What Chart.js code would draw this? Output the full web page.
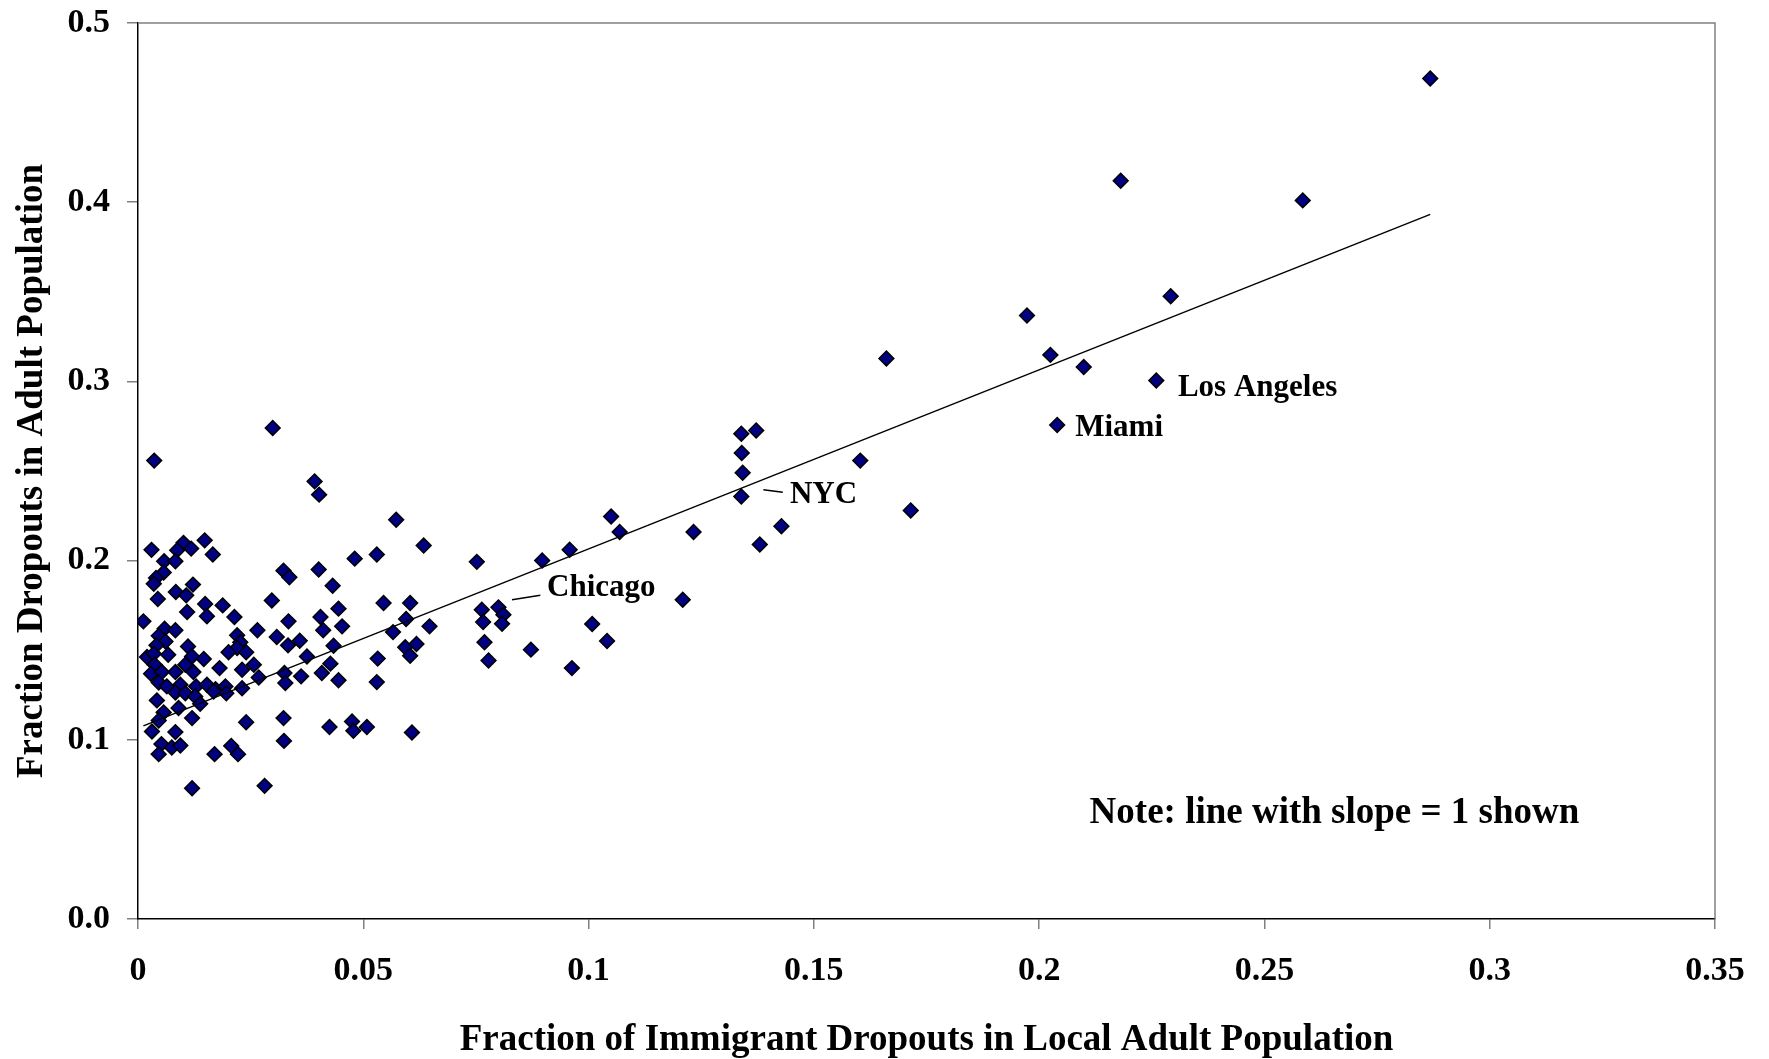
<!DOCTYPE html>
<html>
<head>
<meta charset="utf-8">
<title>Immigrant dropouts vs dropouts in adult population</title>
<script src="https://cdn.jsdelivr.net/npm/chart.js@4.4.1/dist/chart.umd.min.js"></script>
<style>
    html, body { margin: 0; padding: 0; background: #fff; }
    #wrap { width: 1769px; height: 1059px; }
</style>
</head>
<body>
<div id="wrap"><canvas id="scatterChart"></canvas></div>
<script>
// Fraction of immigrant dropouts (x) vs fraction dropouts in adult population (y), one point per city
const cityShareX = [
    0.0030, 0.0101, 0.0087, 0.0118, 0.0148, 0.0166, 0.0058, 0.0083, 0.0057, 0.0040,
    0.0035, 0.0084, 0.0122, 0.0107, 0.0044, 0.0149, 0.0188, 0.0109, 0.0153, 0.0012,
    0.0214, 0.0297, 0.0323, 0.0336, 0.0334, 0.0265, 0.0059, 0.0083, 0.0046, 0.0220,
    0.0061, 0.0041, 0.0308, 0.0333, 0.0359, 0.0111, 0.0227, 0.0220, 0.0201, 0.0240,
    0.0020, 0.0035, 0.0067, 0.0120, 0.0146, 0.0375, 0.0037, 0.0105, 0.0181, 0.0257,
    0.0231, 0.0029, 0.0053, 0.0083, 0.0123, 0.0268, 0.0325, 0.0362, 0.0327, 0.0046,
    0.0064, 0.0094, 0.0129, 0.0153, 0.0172, 0.0194, 0.0231, 0.0083, 0.0105, 0.0127,
    0.0168, 0.0196, 0.0042, 0.0138, 0.0090,
    0.0057, 0.0120, 0.0046, 0.0031, 0.0083, 0.0052, 0.0075, 0.0094, 0.0046, 0.0170,
    0.0207, 0.0222, 0.0240, 0.0323, 0.0324, 0.0120, 0.0281,
    0.0299, 0.0036, 0.0392, 0.0402,
    0.0573, 0.0634, 0.0481, 0.0530, 0.0752, 0.0401, 0.0432, 0.0545, 0.0604, 0.0445,
    0.0405, 0.0595, 0.0411, 0.0453, 0.0647, 0.0566, 0.0763, 0.0766, 0.0769, 0.0778,
    0.0434, 0.0593, 0.0618, 0.0604, 0.0532, 0.0427, 0.0408, 0.0445, 0.0530, 0.0425,
    0.0475, 0.0478, 0.0508, 0.0608,
    0.0897, 0.0958, 0.1209, 0.0800, 0.0811, 0.0808, 0.1008, 0.1041, 0.0872, 0.0963,
    0.1339, 0.1372, 0.1340, 0.1342, 0.1339, 0.1603, 0.1715, 0.1050, 0.1069, 0.1233,
    0.1428, 0.1380,
    0.2260, 0.2040, 0.2025, 0.2099,
    0.2868, 0.2181, 0.2585, 0.2292, 0.1973, 0.1661
];
const cityShareY = [
    0.2060, 0.2099, 0.2058, 0.2067, 0.2113, 0.2034, 0.1996, 0.1996, 0.1934, 0.1903,
    0.1871, 0.1825, 0.1866, 0.1806, 0.1786, 0.1758, 0.1750, 0.1713, 0.1689, 0.1661,
    0.1685, 0.1777, 0.1944, 0.1907, 0.1661, 0.1611, 0.1620, 0.1611, 0.1580, 0.1583,
    0.1549, 0.1527, 0.1574, 0.1527, 0.1553, 0.1521, 0.1544, 0.1512, 0.1489, 0.1489,
    0.1462, 0.1480, 0.1475, 0.1465, 0.1451, 0.1465, 0.1419, 0.1419, 0.1400, 0.1419,
    0.1391, 0.1369, 0.1378, 0.1378, 0.1378, 0.1348, 0.1373, 0.1354, 0.1317, 0.1320,
    0.1298, 0.1307, 0.1298, 0.1307, 0.1283, 0.1298, 0.1288, 0.1264, 0.1260, 0.1242,
    0.1270, 0.1260, 0.1220, 0.1201, 0.1177,
    0.1153, 0.1121, 0.1108, 0.1046, 0.1043, 0.0976, 0.0957, 0.0968, 0.0920, 0.0920,
    0.0966, 0.0920, 0.1098, 0.1121, 0.0994, 0.0730, 0.0743,
    0.2740, 0.2558, 0.2442, 0.2368,
    0.2228, 0.2084, 0.2011, 0.2034, 0.1993, 0.1950, 0.1860, 0.1763, 0.1763, 0.1732,
    0.1685, 0.1674, 0.1611, 0.1633, 0.1633, 0.1601, 0.1726, 0.1657, 0.1544, 0.1443,
    0.1525, 0.1516, 0.1535, 0.1469, 0.1453, 0.1425, 0.1373, 0.1332, 0.1322, 0.1071,
    0.1102, 0.1050, 0.1071, 0.1041,
    0.2001, 0.2061, 0.1782, 0.1739, 0.1698, 0.1648, 0.1646, 0.1551, 0.1503, 0.1400,
    0.2708, 0.2726, 0.2600, 0.2490, 0.2358, 0.2558, 0.2280, 0.2246, 0.2160, 0.2160,
    0.2192, 0.2090,
    0.3005, 0.2757, 0.3148, 0.3080,
    0.4690, 0.4120, 0.4010, 0.3475, 0.3368, 0.3128
];

// Reference line with slope = 1
const slopeLineX = [0.0012, 0.2868];
const slopeLineY = [0.1078, 0.3932];

// Axis ticks
const xTickValues = [0, 0.05, 0.1, 0.15, 0.2, 0.25, 0.3, 0.35];
const xTickLabels = ['0', '0.05', '0.1', '0.15', '0.2', '0.25', '0.3', '0.35'];
const yTickValues = [0, 0.1, 0.2, 0.3, 0.4, 0.5];
const yTickLabels = ['0.0', '0.1', '0.2', '0.3', '0.4', '0.5'];

const xTitle = 'Fraction of Immigrant Dropouts in Local Adult Population';
const yTitle = 'Fraction Dropouts in Adult Population';

// Text notes placed in data units
const notes = [
    { text: 'Los Angeles', x: 0.2308, y: 0.2964, size: 31 },
    { text: 'Miami', x: 0.2080, y: 0.2741, size: 31 },
    { text: 'NYC', x: 0.1447, y: 0.2368, size: 31 },
    { text: 'Chicago', x: 0.0908, y: 0.1846, size: 31 },
    { text: 'Note: line with slope = 1 shown', x: 0.2112, y: 0.0590, size: 37 }
];
const leaders = [
    { x1: 0.0830, y1: 0.1782, x2: 0.0893, y2: 0.1806 },
    { x1: 0.1388, y1: 0.2396, x2: 0.1431, y2: 0.2381 }
];

const serif = "'Liberation Serif', 'Times New Roman', serif";

const pointData = cityShareX.map((x, i) => ({ x: x, y: cityShareY[i] }));
const lineData = slopeLineX.map((x, i) => ({ x: x, y: slopeLineY[i] }));

// grey frame on top and right of the plot area
const frameTopRight = {
    id: 'frameTopRight',
    beforeDatasetsDraw(chart) {
        const { ctx, chartArea: a } = chart;
        ctx.save();
        ctx.strokeStyle = '#808080';
        ctx.lineWidth = 1.5;
        ctx.beginPath();
        ctx.moveTo(a.left, a.top);
        ctx.lineTo(a.right, a.top);
        ctx.lineTo(a.right, a.bottom);
        ctx.stroke();
        ctx.restore();
    }
};

const noteText = {
    id: 'noteText',
    afterDatasetsDraw(chart) {
        const { ctx } = chart;
        const sx = chart.scales.x, sy = chart.scales.y;
        ctx.save();
        ctx.fillStyle = '#000';
        ctx.textAlign = 'left';
        ctx.textBaseline = 'middle';
        notes.forEach(n => {
            ctx.font = 'bold ' + n.size + 'px ' + serif;
            ctx.fillText(n.text, sx.getPixelForValue(n.x), sy.getPixelForValue(n.y));
        });
        ctx.strokeStyle = '#000';
        ctx.lineWidth = 1.5;
        leaders.forEach(l => {
            ctx.beginPath();
            ctx.moveTo(sx.getPixelForValue(l.x1), sy.getPixelForValue(l.y1));
            ctx.lineTo(sx.getPixelForValue(l.x2), sy.getPixelForValue(l.y2));
            ctx.stroke();
        });
        ctx.restore();
    }
};

const ctx = document.getElementById('scatterChart').getContext('2d');
new Chart(ctx, {
    type: 'scatter',
    data: {
        datasets: [
            {
                type: 'line',
                label: 'Slope 1',
                data: lineData,
                borderColor: '#000',
                borderWidth: 1.5,
                pointRadius: 0,
                fill: false,
                tension: 0
            },
            {
                label: 'Cities',
                data: pointData,
                pointStyle: 'rectRot',
                pointRadius: 7.4,
                pointBackgroundColor: '#000080',
                pointBorderColor: '#000',
                pointBorderWidth: 1.5
            }
        ]
    },
    options: {
        responsive: true,
        maintainAspectRatio: false,
        animation: false,
        layout: { padding: { top: 23, right: 54, left: 0, bottom: 0 } },
        scales: {
            x: {
                type: 'linear',
                min: 0,
                max: 0.35,
                afterBuildTicks: (s) => { s.ticks = xTickValues.map(v => ({ value: v })); },
                afterFit: (s) => { s.height = 140; },
                ticks: {
                    color: '#000',
                    font: { family: serif, size: 34, weight: 'bold' },
                    padding: 22,
                    maxRotation: 0,
                    callback: (v, i) => xTickLabels[i]
                },
                grid: { drawOnChartArea: false, color: '#808080', tickLength: 10, lineWidth: 1.5 },
                border: { color: '#000', width: 1.5 },
                title: {
                    display: true,
                    text: xTitle,
                    color: '#000',
                    font: { family: serif, size: 37, weight: 'bold' },
                    padding: { top: 0, bottom: -4 }
                }
            },
            y: {
                type: 'linear',
                min: 0,
                max: 0.5,
                afterBuildTicks: (s) => { s.ticks = yTickValues.map(v => ({ value: v })); },
                afterFit: (s) => { s.width = 138; },
                ticks: {
                    color: '#000',
                    // small line height keeps the top label from pushing the plot down
                    font: { family: serif, size: 34, weight: 'bold', lineHeight: 0.2 },
                    padding: 17,
                    callback: (v, i) => yTickLabels[i]
                },
                grid: { drawOnChartArea: false, color: '#808080', tickLength: 11, lineWidth: 1.5 },
                border: { color: '#000', width: 1.5 },
                title: {
                    display: true,
                    text: yTitle,
                    color: '#000',
                    font: { family: serif, size: 37, weight: 'bold' },
                    padding: { top: 10, bottom: 0 }
                }
            }
        },
        plugins: {
            legend: { display: false },
            tooltip: { enabled: false }
        }
    },
    plugins: [frameTopRight, noteText]
});
</script>
</body>
</html>
